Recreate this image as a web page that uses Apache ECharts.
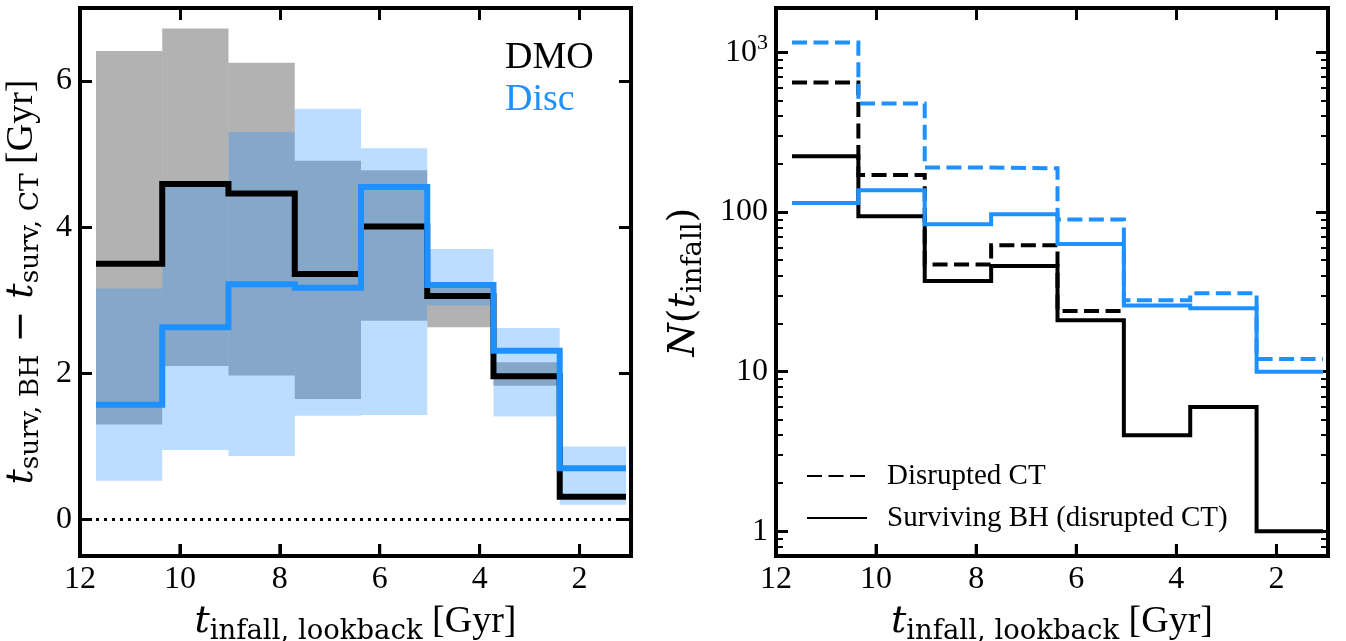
<!DOCTYPE html>
<html><head><meta charset="utf-8">
<script src="https://cdn.jsdelivr.net/npm/echarts@6/dist/echarts.min.js"></script>
<style>html,body{margin:0;padding:0;background:#fff}#c{width:1346px;height:641px}</style>
</head><body><div id="c"></div>
<script>
// ---- data ----
const binEdges = [11.68, 10.354, 9.028, 7.701, 6.375, 5.049, 3.723, 2.397, 1.07];
const dmoMedian = [3.50, 4.59, 4.46, 3.36, 4.01, 3.06, 1.96, 0.31];
const dmoLow    = [1.30, 2.10, 1.97, 1.65, 2.72, 2.63, 1.83, 0.28];
const dmoHigh   = [6.41, 6.72, 6.25, 4.91, 4.78, 3.20, 2.15, 0.34];
const discMedian = [1.57, 2.63, 3.22, 3.17, 4.55, 3.21, 2.31, 0.70];
const discLow    = [0.53, 0.95, 0.87, 1.42, 1.43, 2.93, 1.41, 0.20];
const discHigh   = [3.16, 4.55, 5.30, 5.62, 5.08, 3.70, 2.62, 1.00];
const dmoDisruptedCT  = [649, 171, 47, 62, 24, null, null, null];
const dmoSurvivingBH  = [224, 94, 37, 46, 21, 4, 6, 1];
const discDisruptedCT = [1155, 479, 190, 188, 90, 28, 31, 12];
const discSurvivingBH = [114, 137, 84, 97, 63, 26, 25, 10];
const xTicks = [12, 10, 8, 6, 4, 2];
const yTicksLeft = [0, 2, 4, 6];
const yTicksRight = [1, 10, 100, 1000];
const yMinorRight = [0.8, 0.9, 2, 3, 4, 5, 6, 7, 8, 9, 20, 30, 40, 50, 60, 70, 80, 90, 200, 300, 400, 500, 600, 700, 800, 900];

// ---- axis ranges ----
const X_MIN = 0.97, X_MAX = 12;
const YL_MIN = -0.5, YL_MAX = 7;
const YR_MIN = 0.7, YR_MAX = 1900;
const PLOT_H = 548, TICK_LEN = 12;

// ---- helpers ----
function steps(vals) {
  const out = [];
  vals.forEach((v, i) => { if (v == null) return; out.push([binEdges[i], v], [binEdges[i + 1], v]); });
  return out;
}
function bands(lo, hi) {
  return lo.map((l, i) => [binEdges[i], binEdges[i + 1], l, hi[i]]);
}
function bandSeries(lo, hi, color, xi, yi) {
  return {
    type: 'custom', xAxisIndex: xi, yAxisIndex: yi, data: bands(lo, hi),
    encode: { x: [0, 1], y: [2, 3] },
    renderItem: (params, api) => {
      const a = api.coord([api.value(0), api.value(3)]);
      const b = api.coord([api.value(1), api.value(2)]);
      return { type: 'rect', shape: { x: Math.min(a[0], b[0]), y: Math.min(a[1], b[1]), width: Math.abs(b[0] - a[0]), height: Math.abs(b[1] - a[1]) }, style: { fill: color } };
    }, silent: true
  };
}
function lineSeries(name, vals, color, width, dash, xi, yi) {
  return {
    name: name, type: 'line', xAxisIndex: xi, yAxisIndex: yi, data: steps(vals),
    symbol: 'none', showSymbol: false, silent: true,
    lineStyle: { color: color, width: width, type: dash || 'solid', join: 'miter', cap: 'butt' },
    itemStyle: { color: color }
  };
}
// bottom inward ticks as short vertical segments in axis units
function bottomTicks(xi, yi, yMin, yTop) {
  const d = [];
  xTicks.forEach(v => { d.push([v, yMin], [v, yTop], [v, '-']); });
  return { type: 'line', xAxisIndex: xi, yAxisIndex: yi, data: d, symbol: 'none', silent: true, z: 20,
    connectNulls: false, clip: false, lineStyle: { color: '#000', width: 3, type: 'solid', cap: 'butt' } };
}
const SERIF = 'Liberation Serif';
const MATH = 'DejaVu Serif';
const tickLabel = { fontFamily: SERIF, fontSize: 32, color: '#000' };
const noLine = { show: false, onZero: false };
const majorTick = ticks => ({ show: true, customValues: ticks, inside: true, length: TICK_LEN, lineStyle: { width: 3, color: '#000' } });

function xTickAxis(gi, pos, showTicks) {
  return { type: 'value', gridIndex: gi, position: pos, min: X_MIN, max: X_MAX, inverse: true,
    splitLine: { show: false }, axisLine: noLine, axisLabel: { show: false },
    axisTick: showTicks ? majorTick(xTicks) : { show: false } };
}
function xLabelAxis(gi) {
  return { type: 'value', gridIndex: gi, position: 'bottom', min: X_MIN, max: X_MAX, inverse: true,
    splitLine: { show: false }, axisLine: noLine, axisTick: { show: false },
    axisLabel: Object.assign({ customValues: xTicks, margin: 8 }, tickLabel),
    name: '{t|t}{s|infall, lookback}{g| [Gyr]}', nameLocation: 'middle', nameGap: 43,
    nameTextStyle: { rich: {
      t: { fontFamily: MATH, fontStyle: 'italic', fontSize: 38, color: '#000' },
      s: { fontFamily: MATH, fontSize: 27.5, color: '#000', padding: [19, 0, 0, 0] },
      g: { fontFamily: SERIF, fontSize: 38, color: '#000' } } } };
}
function logAxis(pos, ticks, len, w) {
  return { type: 'log', gridIndex: 1, position: pos, min: YR_MIN, max: YR_MAX, splitLine: { show: false }, axisLine: noLine,
    axisLabel: { show: false },
    axisTick: { show: true, customValues: ticks, inside: true, length: len, lineStyle: { width: w, color: '#000' } } };
}
const hiddenY = gi => ({ type: 'value', gridIndex: gi, show: false, min: 0, max: 1 });

const common = { outerBoundsMode: 'none', containLabel: false };
const leftRect = Object.assign({ left: 80, top: 8, width: 551, height: PLOT_H }, common);
const rightRect = Object.assign({ left: 776, top: 8, width: 552, height: PLOT_H }, common);

const baseGraphic = [
  { type: 'text', left: 505, top: 39, style: { text: 'DMO', font: '38px "Liberation Serif"', fill: '#000' } },
  { type: 'text', left: 505, top: 81, style: { text: 'Disc', font: '38px "Liberation Serif"', fill: '#1e90ff' } }
];

const leftTickTop = YL_MIN + TICK_LEN * (YL_MAX - YL_MIN) / PLOT_H;
const rightTickTop = YR_MIN * Math.pow(YR_MAX / YR_MIN, TICK_LEN / PLOT_H);

const option = {
  animation: false,
  backgroundColor: '#fff',
  grid: [
    Object.assign({ show: true, borderColor: '#000', borderWidth: 4, backgroundColor: 'transparent' }, leftRect),
    Object.assign({ show: true, borderColor: '#000', borderWidth: 4, backgroundColor: 'transparent' }, rightRect),
    Object.assign({ show: false }, leftRect),
    Object.assign({ show: false }, rightRect)
  ],
  xAxis: [
    xTickAxis(0, 'bottom', true), xTickAxis(0, 'top', true),
    xTickAxis(1, 'bottom', true), xTickAxis(1, 'top', true),
    xLabelAxis(2), xLabelAxis(3)
  ],
  yAxis: [
    { type: 'value', gridIndex: 0, position: 'left', min: YL_MIN, max: YL_MAX, splitLine: { show: false }, axisLine: noLine,
      axisLabel: Object.assign({ customValues: yTicksLeft, margin: 8 }, tickLabel),
      axisTick: majorTick(yTicksLeft),
      name: '{t|t}{s|surv, BH}{m| − }{t|t}{s|surv, CT}{g| [Gyr]}', nameLocation: 'middle', nameGap: 35,
      nameTextStyle: { rich: {
        t: { fontFamily: MATH, fontStyle: 'italic', fontSize: 38, color: '#000' },
        s: { fontFamily: MATH, fontSize: 26.5, color: '#000', padding: [19, 0, 0, 0] },
        m: { fontFamily: MATH, fontSize: 38, color: '#000' },
        g: { fontFamily: SERIF, fontSize: 38, color: '#000' } } } },
    { type: 'value', gridIndex: 0, position: 'right', min: YL_MIN, max: YL_MAX, splitLine: { show: false }, axisLine: noLine,
      axisLabel: { show: false }, axisTick: majorTick(yTicksLeft) },
    Object.assign(logAxis('left', yTicksRight, TICK_LEN, 3), {
      axisLabel: Object.assign({ customValues: yTicksRight, margin: 8,
        formatter: v => { const r = Math.round(v); return r === 1000 ? '{a|10}{b|3}' : '{a|' + r + '}'; },
        rich: { a: { fontFamily: SERIF, fontSize: 32, color: '#000' }, b: { fontFamily: SERIF, fontSize: 22, color: '#000', padding: [0, 0, 18, 0] } } }, tickLabel),
      name: '{n|N}{p|(}{t|t}{s|infall}{p|)}', nameLocation: 'middle', nameGap: 68,
      nameTextStyle: { rich: {
        n: { fontFamily: MATH, fontStyle: 'italic', fontSize: 38, color: '#000' },
        p: { fontFamily: MATH, fontSize: 38, color: '#000' },
        t: { fontFamily: MATH, fontStyle: 'italic', fontSize: 38, color: '#000' },
        s: { fontFamily: MATH, fontSize: 27.5, color: '#000', padding: [19, 0, 0, 0] } } } }),
    logAxis('right', yTicksRight, TICK_LEN, 3),
    logAxis('left', yMinorRight, 7, 2),
    logAxis('right', yMinorRight, 7, 2),
    hiddenY(2), hiddenY(3)
  ],
  legend: {
    data: ['Disrupted CT', 'Surviving BH (disrupted CT)'],
    orient: 'vertical', left: 801, top: 456, itemWidth: 60, itemHeight: 14, itemGap: 12,
    itemStyle: { opacity: 0, color: 'transparent', borderWidth: 0 },
    textStyle: { fontFamily: SERIF, fontSize: 29, color: '#000', lineHeight: 30, padding: [0, 0, 0, 15] },
    selectedMode: false
  },
  graphic: baseGraphic,
  series: [
    { type: 'line', xAxisIndex: 0, yAxisIndex: 0, data: [[X_MAX, 0], [X_MIN, 0]], symbol: 'none', silent: true,
      lineStyle: { color: '#000', width: 3, type: [3, 5] } },
    bandSeries(dmoLow, dmoHigh, 'rgba(0,0,0,0.3)', 0, 0),
    bandSeries(discLow, discHigh, 'rgba(30,144,255,0.3)', 0, 0),
    lineSeries('DMO', dmoMedian, '#000', 6, null, 0, 0),
    lineSeries('Disc', discMedian, '#1e90ff', 6, null, 0, 0),
    lineSeries('Disrupted CT', dmoDisruptedCT, '#000', 4, [15, 6.5], 2, 2),
    lineSeries('Surviving BH (disrupted CT)', dmoSurvivingBH, '#000', 4, null, 2, 2),
    lineSeries('Disc disrupted CT', discDisruptedCT, '#1e90ff', 4, [15, 6.5], 2, 2),
    lineSeries('Disc surviving BH', discSurvivingBH, '#1e90ff', 4, null, 2, 2),
    bottomTicks(0, 0, YL_MIN, leftTickTop),
    bottomTicks(2, 2, YR_MIN, rightTickTop)
  ]
};
const chart = echarts.init(document.getElementById('c'), null, { renderer: 'canvas' });
chart.setOption(option);
</script>
</body></html>
